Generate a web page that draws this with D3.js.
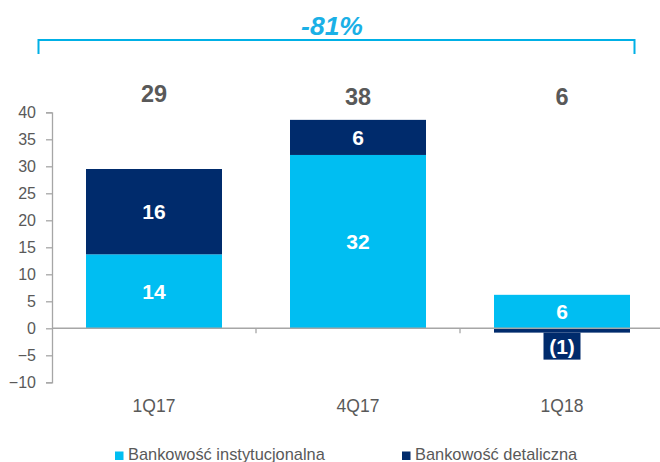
<!DOCTYPE html>
<html>
<head>
<meta charset="utf-8">
<script src="https://cdn.jsdelivr.net/npm/d3@7"></script>
<style>
  body { margin: 0; background: #fff; }
  svg { display: block; font-family: "Liberation Sans", Arial, sans-serif; }
</style>
</head>
<body>
<svg id="chart" width="660" height="462"></svg>
<script>
// data
var quarters = ['1Q17', '4Q17', '1Q18'];
var instytucjonalna = [13.7, 32.1, 6.2];
var detaliczna = [15.8, 6.5, -0.8];
var instLabels = ['14', '32', '6'];
var detLabels = ['16', '6', '(1)'];
var totalLabels = ['29', '38', '6'];
var yTicks = [-10, -5, 0, 5, 10, 15, 20, 25, 30, 35, 40];
var changeLabel = '-81%';
var seriesNames = ['Bankowość instytucjonalna', 'Bankowość detaliczna'];

var lightBlue = '#00bef2';
var navy = '#002b6c';
var gray = '#595959';
var axisGray = '#a6a6a6';

var svg = d3.select('#chart');

var x = d3.scaleBand()
    .domain(quarters)
    .range([52, 664])
    .paddingInner(1 / 3)
    .paddingOuter(1 / 6);

var y = d3.scaleLinear()
    .domain([-10, 40])
    .range([382.3, 112.3]);

// y axis
var yAxis = svg.append('g')
    .attr('transform', 'translate(52,0)')
    .call(d3.axisLeft(y).tickValues(yTicks).tickSize(6).tickPadding(10));
yAxis.select('.domain').attr('stroke', axisGray).attr('stroke-width', 1.3);
yAxis.selectAll('.tick line').attr('stroke', axisGray).attr('stroke-width', 1.3);
yAxis.selectAll('.tick text')
    .attr('fill', gray)
    .style('font-size', '16px')
    .style('font-family', '"Liberation Sans", Arial, sans-serif');

// bars: institutional from 0 up, retail stacked on top (or below 0 if negative)
var bars = svg.append('g');
quarters.forEach(function(q, i) {
    var inst = instytucjonalna[i];
    var det = detaliczna[i];
    bars.append('rect')
        .attr('x', x(q))
        .attr('width', x.bandwidth())
        .attr('y', y(inst))
        .attr('height', y(0) - y(inst))
        .attr('fill', lightBlue);
    var d0 = det >= 0 ? inst : 0;
    var d1 = d0 + det;
    bars.append('rect')
        .attr('x', x(q))
        .attr('width', x.bandwidth())
        .attr('y', y(Math.max(d0, d1)))
        .attr('height', Math.abs(y(d0) - y(d1)))
        .attr('fill', navy);
});

// zero line + category ticks
var xAxis = svg.append('g')
    .attr('transform', 'translate(0,' + y(0) + ')');
xAxis.append('line')
    .attr('x1', 52).attr('x2', 660)
    .attr('stroke', axisGray).attr('stroke-width', 1.5);
var step = x.step();
[1, 2].forEach(function(k) {
    var bx = 52 + step * k;
    xAxis.append('line')
        .attr('x1', bx).attr('x2', bx)
        .attr('y1', 0).attr('y2', 5)
        .attr('stroke', axisGray).attr('stroke-width', 1.3);
});

// category labels
svg.append('g').selectAll('text')
    .data(quarters)
    .enter().append('text')
    .attr('x', function(d) { return x(d) + x.bandwidth() / 2; })
    .attr('y', 412)
    .attr('text-anchor', 'middle')
    .attr('fill', gray)
    .style('font-size', '17.5px')
    .text(function(d) { return d; });

// segment labels
var labels = svg.append('g')
    .attr('fill', '#fff')
    .attr('font-weight', 'bold')
    .style('font-size', '21px')
    .attr('text-anchor', 'middle');

quarters.forEach(function(q, i) {
    var cx = x(q) + x.bandwidth() / 2;
    var inst = instytucjonalna[i];
    var det = detaliczna[i];
    labels.append('text')
        .attr('x', cx)
        .attr('y', (y(0) + y(inst)) / 2)
        .attr('dy', '0.36em')
        .text(instLabels[i]);
    if (det >= 0) {
        labels.append('text')
            .attr('x', cx)
            .attr('y', (y(inst) + y(inst + det)) / 2)
            .attr('dy', '0.36em')
            .text(detLabels[i]);
    } else {
        // small negative bar: label sits in its own dark box below
        var by = y(det);
        labels.append('rect')
            .attr('x', cx - 18.5)
            .attr('y', by)
            .attr('width', 37)
            .attr('height', 27)
            .attr('fill', navy);
        labels.append('text')
            .attr('x', cx)
            .attr('y', by + 13.5)
            .attr('dy', '0.36em')
            .text(detLabels[i]);
    }
});

// totals above bars
svg.append('g').selectAll('text')
    .data(quarters)
    .enter().append('text')
    .attr('x', function(d) { return x(d) + x.bandwidth() / 2; })
    .attr('y', function(d, i) { return i == 0 ? 102 : 105; })
    .attr('text-anchor', 'middle')
    .attr('fill', gray)
    .attr('font-weight', 'bold')
    .style('font-size', '23.5px')
    .text(function(d, i) { return totalLabels[i]; });

// bracket with change
var bracketColor = '#00b0e6';
svg.append('path')
    .attr('d', 'M38.5,54 V40 H634.5 V54')
    .attr('fill', 'none')
    .attr('stroke', bracketColor)
    .attr('stroke-width', 2);
svg.append('text')
    .attr('x', 332)
    .attr('y', 35)
    .attr('text-anchor', 'middle')
    .attr('fill', '#1ab0e6')
    .attr('font-weight', 'bold')
    .attr('font-style', 'italic')
    .style('font-size', '26.5px')
    .text(changeLabel);

// legend
var legend = svg.append('g');
var legendX = [115, 402];
var legendColors = [lightBlue, navy];
seriesNames.forEach(function(name, i) {
    legend.append('rect')
        .attr('x', legendX[i])
        .attr('y', 451.5)
        .attr('width', 8.5)
        .attr('height', 8.5)
        .attr('fill', legendColors[i]);
    legend.append('text')
        .attr('x', legendX[i] + 13)
        .attr('y', 460)
        .attr('fill', gray)
        .style('font-size', '16.4px')
        .text(name);
});
</script>
</body>
</html>
